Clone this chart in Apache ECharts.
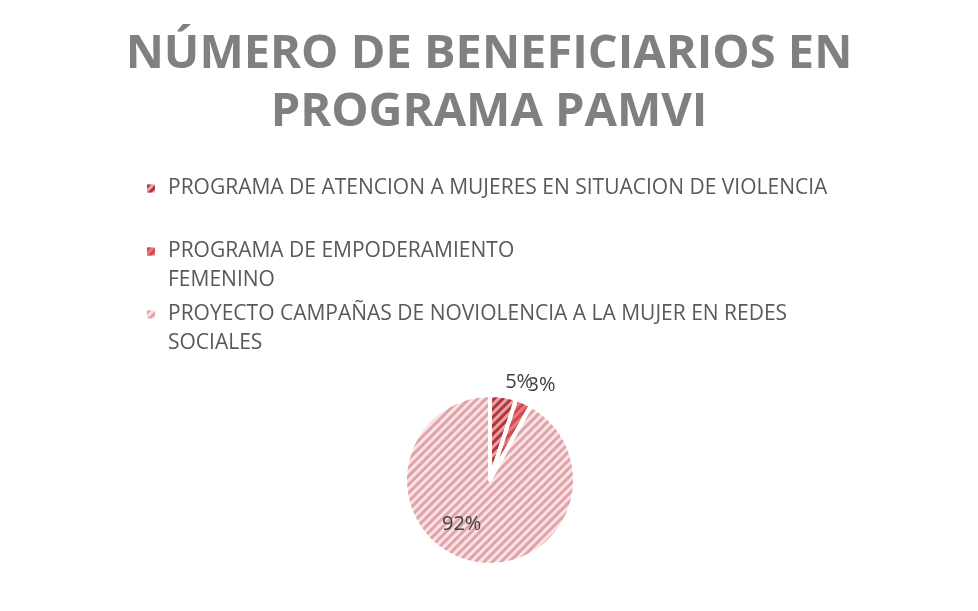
<!DOCTYPE html>
<html>
<head>
<meta charset="utf-8">
<script src="https://cdn.jsdelivr.net/npm/echarts@6/dist/echarts.min.js"></script>
<style>
  html, body { margin: 0; padding: 0; background: #fff; }
  #chart { width: 978px; height: 611px; }
</style>
</head>
<body>
<div id="chart"></div>
<script>
  // datos del grafico
  var categories = [
    'PROGRAMA DE ATENCION A MUJERES EN SITUACION DE VIOLENCIA',
    'PROGRAMA DE EMPODERAMIENTO FEMENINO',
    'PROYECTO CAMPAÑAS DE NOVIOLENCIA A LA MUJER EN REDES SOCIALES'
  ];
  var legendLabels = [
    'PROGRAMA DE ATENCION A MUJERES EN SITUACION DE VIOLENCIA\n ',
    'PROGRAMA DE EMPODERAMIENTO\nFEMENINO',
    'PROYECTO CAMPAÑAS DE NOVIOLENCIA A LA MUJER EN REDES\nSOCIALES'
  ];
  var percentages = [5, 3, 92];

  var baseColors = ['#e6a4a6', '#e57b7e', '#f8e3e4'];
  var stripeColors = ['#b2353c', '#cf4a50', '#e1a3a8'];
  // desplazamiento de etiquetas (como en el original)
  var labelOffsets = [[-5, -2], [-6, -6], [-17, 0]];

  var chart = echarts.init(document.getElementById('chart'));

  var data = categories.map(function (name, i) {
    return {
      name: name,
      value: percentages[i],
      itemStyle: {
        color: baseColors[i],
        decal: {
          symbol: 'rect',
          symbolSize: 1,
          dashArrayX: [1, 0],
          dashArrayY: [2.5, 2.5],
          rotation: -Math.PI / 4,
          color: stripeColors[i]
        }
      },
      label: {
        position: i < 2 ? 'outside' : 'inside',
        offset: labelOffsets[i]
      }
    };
  });

  chart.setOption({
    backgroundColor: '#fff',
    title: {
      text: 'NÚMERO DE BENEFICIARIOS EN\nPROGRAMA PAMVI',
      left: 'center',
      top: 21,
      textStyle: {
        fontFamily: 'Open Sans',
        fontWeight: 'bold',
        fontSize: 47,
        lineHeight: 58,
        color: '#808080'
      }
    },
    legend: {
      orient: 'vertical',
      left: 147,
      top: 174,
      padding: 0,
      itemGap: 5,
      itemWidth: 8,
      itemHeight: 37,
      icon: 'path://M0,0H8V8H0Z M0,37H8',
      itemStyle: { borderWidth: 0 },
      formatter: function (name) {
        return legendLabels[categories.indexOf(name)];
      },
      textStyle: {
        fontFamily: 'Open Sans',
        fontSize: 21,
        lineHeight: 29,
        color: '#595959',
        padding: [0, 0, 0, 8]
      },
      data: categories
    },
    series: [{
      type: 'pie',
      center: [490, 480],
      radius: 85,
      startAngle: 90,
      clockwise: true,
      avoidLabelOverlap: false,
      labelLayout: { hideOverlap: false },
      itemStyle: {
        borderColor: '#fff',
        borderWidth: 4
      },
      label: {
        formatter: '{c}%',
        fontFamily: 'Open Sans',
        fontSize: 20,
        color: '#404040'
      },
      labelLine: {
        show: false,
        length: 12,
        length2: 0
      },
      emphasis: { disabled: true },
      data: data
    }]
  });
</script>
</body>
</html>
